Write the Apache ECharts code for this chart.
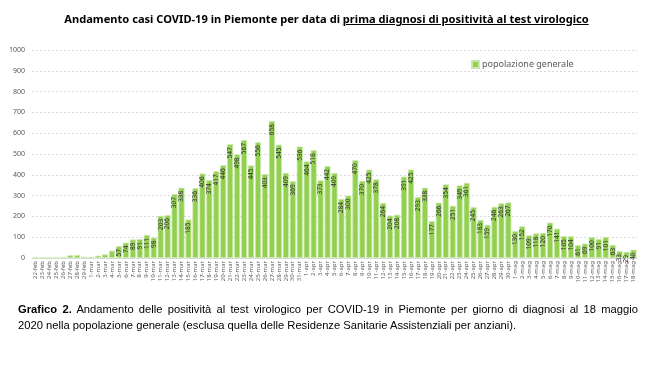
<!DOCTYPE html>
<html>
<head>
<meta charset="utf-8">
<script src="https://cdn.jsdelivr.net/npm/echarts@6/dist/echarts.min.js"></script>
<style>
  html, body { margin: 0; padding: 0; background: #fff; }
  #wrap { position: relative; width: 653px; height: 367px; overflow: hidden; }
  #chart { position: absolute; left: 0; top: 0; width: 653px; height: 367px; }
  #title { position: absolute; left: 0; top: 11px; width: 653px; text-align: center;
    font-family: "Noto Sans", sans-serif; font-weight: bold; font-size: 11.1px; color: #000; }
  #title u { text-decoration: underline; }
  .cap { position: absolute; left: 18px; width: 620px; font-family: "Liberation Sans", sans-serif;
    font-size: 11.2px; line-height: 13px; color: #000; white-space: nowrap; }
  #cap1 { top: 303px; text-align: justify; text-align-last: justify; white-space: normal; }
  #cap2 { top: 319px; }
</style>
</head>
<body>
<div id="wrap">
  <div id="chart"></div>
  <div id="title">Andamento casi COVID-19 in Piemonte per data di <u>prima diagnosi di positività al test virologico</u></div>
  <div id="cap1" class="cap"><b>Grafico 2.</b> Andamento delle positività al test virologico per COVID-19 in Piemonte per giorno di diagnosi al 18 maggio</div>
  <div id="cap2" class="cap">2020 nella popolazione generale (esclusa quella delle Residenze Sanitarie Assistenziali per anziani).</div>
</div>
<script>
const febDays = ['22-feb','23-feb','24-feb','25-feb','26-feb','27-feb','28-feb','29-feb'];
const febValues = [1, 1, 2, 1, 2, 13, 14, 6];
const marValues = [4, 11, 17, 35, 57, 74, 89, 91, 111, 98, 203, 206, 307, 338, 185, 336, 406, 374, 417, 446, 547, 498, 567, 445, 556, 403, 658, 545, 409, 369, 536];
const aprValues = [464, 518, 373, 442, 409, 284, 300, 470, 370, 425, 378, 264, 204, 208, 391, 425, 293, 338, 177, 266, 354, 251, 349, 361, 245, 183, 159, 246, 263, 267];
const magValues = [130, 152, 109, 118, 120, 170, 141, 105, 104, 61, 69, 100, 91, 101, 63, 33, 29, 40];
const yTicks = [0, 100, 200, 300, 400, 500, 600, 700, 800, 900, 1000];
const seriesName = 'popolazione generale';

const categories = febDays
  .concat(marValues.map((v, i) => (i + 1) + '-mar'))
  .concat(aprValues.map((v, i) => (i + 1) + '-apr'))
  .concat(magValues.map((v, i) => (i + 1) + '-mag'));
const values = febValues.concat(marValues, aprValues, magValues);
const firstLabelled = categories.indexOf('5-mar');

const chart = echarts.init(document.getElementById('chart'));
chart.setOption({
  animation: false,
  textStyle: { fontFamily: 'Noto Sans' },
  grid: { left: 32, right: 16, top: 50, bottom: 109 },
  legend: {
    data: [seriesName], left: 466, top: 55,
    itemWidth: 7, itemHeight: 7, itemGap: 4, icon: 'rect',
    textStyle: { color: '#595959', fontSize: 9, padding: [0, 0, 0, -2] }
  },
  xAxis: {
    type: 'category', data: categories,
    axisLine: { lineStyle: { color: '#d9d9d9' } },
    axisTick: { show: false },
    axisLabel: { interval: 0, rotate: 90, fontSize: 6, color: '#595959', margin: 3 }
  },
  yAxis: {
    type: 'value', min: yTicks[0], max: yTicks[yTicks.length - 1], interval: 100,
    axisLine: { show: false }, axisTick: { show: false },
    axisLabel: { fontSize: 7, color: '#595959', margin: 7, formatter: v => String(v) },
    splitLine: { lineStyle: { color: '#d9d9d9', type: [2, 2] } }
  },
  series: [{
    name: seriesName, type: 'bar', data: values,
    barCategoryGap: '14%',
    itemStyle: { color: '#92D050', borderColor: '#c9e8a8', borderWidth: 0.8 },
    label: {
      show: true, position: 'insideTop', rotate: 90, align: 'right', verticalAlign: 'middle',
      distance: 3, fontSize: 6.5, color: '#333333',
      formatter: p => (p.dataIndex >= firstLabelled ? String(p.value) : '')
    }
  }]
});
</script>
</body>
</html>
